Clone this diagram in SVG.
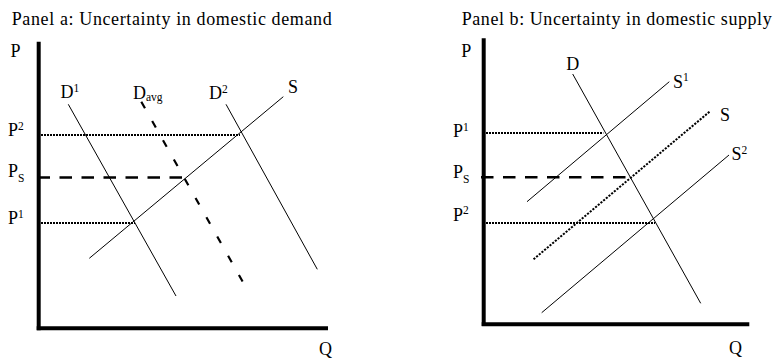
<svg xmlns="http://www.w3.org/2000/svg" width="773" height="360" viewBox="0 0 773 360">
<style>
text{font-family:"Liberation Serif","Times New Roman",serif;fill:#000}
.title{font-size:18px}
.lbl{font-size:18px}
.sup{font-size:11.5px}
.axis{stroke:#000;stroke-width:4;fill:none}
.curve{stroke:#000;stroke-width:1;fill:none}
.dot{stroke:#000;stroke-width:2;stroke-dasharray:2 1;fill:none}
.dash{stroke:#000;stroke-width:2.5;stroke-dasharray:12.5 9.5;fill:none}
.avg{stroke:#000;stroke-width:2.2;stroke-dasharray:7.5 14.6;fill:none}
.sdot{stroke:#000;stroke-width:2;stroke-dasharray:2.2 1.3;fill:none}
</style>
<rect width="773" height="360" fill="#fff"/>

<!-- Panel a -->
<g id="panel-a">
  <text id="title-a" class="title" x="11.7" y="25" textLength="320">Panel a: Uncertainty in domestic demand</text>
  <g id="axes-a">
    <line class="axis" x1="38.7" y1="41.7" x2="38.7" y2="330.3"/>
    <line class="axis" x1="36.7" y1="328.3" x2="328" y2="328.3"/>
    <text class="lbl" x="10.5" y="57">P</text>
    <text class="lbl" x="319" y="355">Q</text>
  </g>
  <g id="connectors-a">
    <line class="dot" x1="41" y1="135" x2="240" y2="135"/>
    <line class="dash" x1="37.5" y1="177.5" x2="185" y2="177.5"/>
    <line class="dot" x1="41" y1="223" x2="135" y2="223"/>
  </g>
  <g id="D1-a">
    <line class="curve" x1="68.3" y1="104.3" x2="176" y2="296"/>
    <text class="lbl" x="60.5" y="98">D<tspan class="sup" dy="-6.5">1</tspan></text>
  </g>
  <g id="Davg-a">
    <line class="avg" x1="141.3" y1="101.7" x2="242.7" y2="281.7"/>
    <text class="lbl" x="133" y="99">D<tspan class="sup" dy="2">avg</tspan></text>
  </g>
  <g id="D2-a">
    <line class="curve" x1="226" y1="104.3" x2="317.3" y2="269.3"/>
    <text class="lbl" x="209" y="99">D<tspan class="sup" dy="-6.5">2</tspan></text>
  </g>
  <g id="S-a">
    <line class="curve" x1="283.3" y1="96.7" x2="89.3" y2="258.3"/>
    <text class="lbl" x="288" y="93">S</text>
  </g>
  <g id="price-labels-a">
    <text class="lbl" x="8" y="136">P<tspan class="sup" dy="-6.5">2</tspan></text>
    <text class="lbl" x="8" y="177">P<tspan class="sup" dy="5">S</tspan></text>
    <text class="lbl" x="8" y="224">P<tspan class="sup" dy="-6.5">1</tspan></text>
  </g>
</g>

<!-- Panel b -->
<g id="panel-b">
  <text id="title-b" class="title" x="461.7" y="25" textLength="310">Panel b: Uncertainty in domestic supply</text>
  <g id="axes-b">
    <line class="axis" x1="483.7" y1="38.3" x2="483.7" y2="326"/>
    <line class="axis" x1="481.7" y1="324.3" x2="749.3" y2="324.3"/>
    <text class="lbl" x="461.2" y="57">P</text>
    <text class="lbl" x="729" y="354">Q</text>
  </g>
  <g id="connectors-b">
    <line class="dot" x1="486" y1="133" x2="603.3" y2="133"/>
    <line class="dash" x1="481" y1="177.3" x2="631.7" y2="177.3"/>
    <line class="dot" x1="486" y1="223" x2="655" y2="223"/>
  </g>
  <g id="D-b">
    <line class="curve" x1="572.7" y1="74" x2="700.7" y2="303.3"/>
    <text class="lbl" x="566.2" y="70">D</text>
  </g>
  <g id="S1-b">
    <line class="curve" x1="669.3" y1="81.7" x2="527" y2="201.7"/>
    <text class="lbl" x="673" y="87.5">S<tspan class="sup" dy="-6.5">1</tspan></text>
  </g>
  <g id="S-b">
    <line class="sdot" x1="709.5" y1="111.7" x2="532.7" y2="260"/>
    <text class="lbl" x="720" y="121">S</text>
  </g>
  <g id="S2-b">
    <line class="curve" x1="729" y1="155" x2="541.7" y2="312.7"/>
    <text class="lbl" x="731.5" y="160">S<tspan class="sup" dy="-6.5">2</tspan></text>
  </g>
  <g id="price-labels-b">
    <text class="lbl" x="453" y="137">P<tspan class="sup" dy="-6.5">1</tspan></text>
    <text class="lbl" x="453" y="178">P<tspan class="sup" dy="5">S</tspan></text>
    <text class="lbl" x="453" y="220.5">P<tspan class="sup" dy="-6.5">2</tspan></text>
  </g>
</g>
</svg>
